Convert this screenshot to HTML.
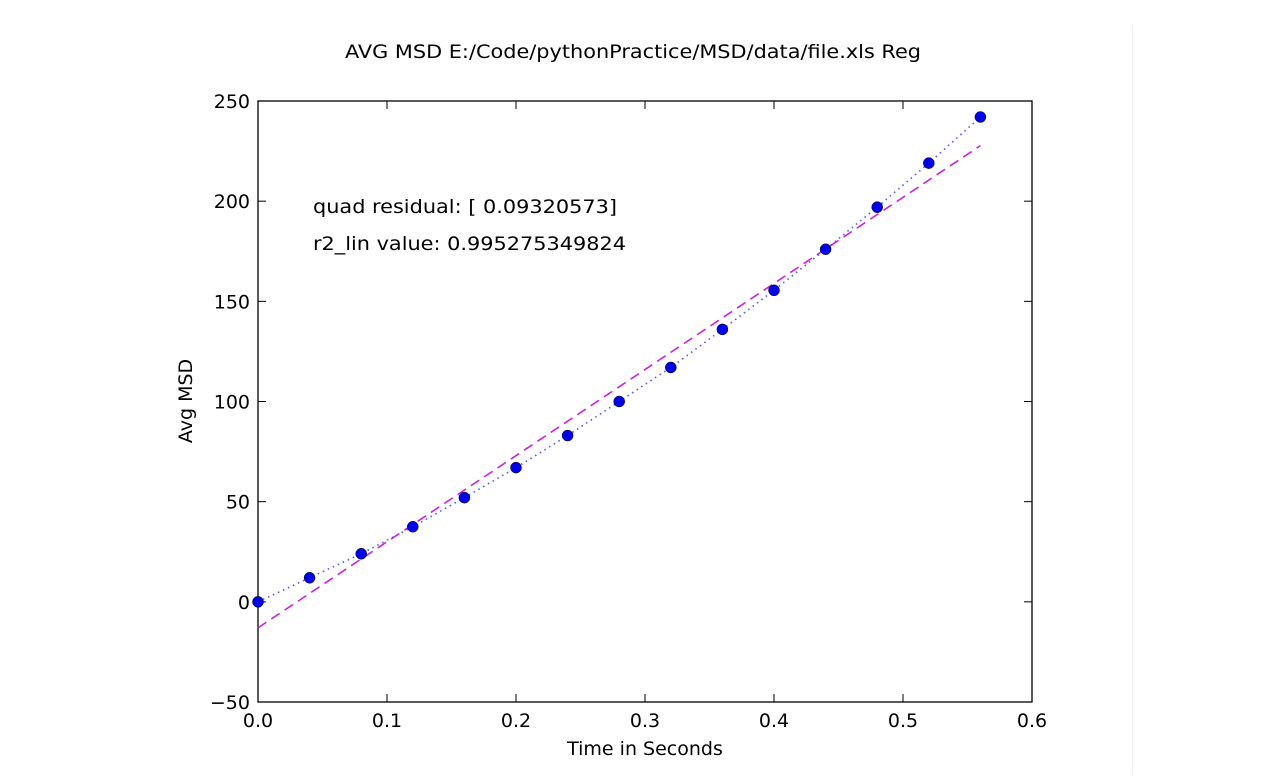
<!DOCTYPE html>
<html><head><meta charset="utf-8"><style>
body{margin:0;background:#fff;width:1261px;height:775px;overflow:hidden;font-family:"DejaVu Sans","Liberation Sans",sans-serif}
</style></head><body>
<svg id="chart" width="1261" height="775" xmlns="http://www.w3.org/2000/svg" font-family="DejaVu Sans, Liberation Sans, sans-serif">
<line x1="1132.5" y1="25" x2="1132.5" y2="775" stroke="#eee" stroke-width="1"/>
<text x="345" y="58" font-size="19" textLength="576" lengthAdjust="spacingAndGlyphs" fill="#000">AVG MSD E:/Code/pythonPractice/MSD/data/file.xls Reg</text>
<g id="plot"></g>
<text x="313" y="213" font-size="19" textLength="304" lengthAdjust="spacingAndGlyphs" fill="#000">quad residual: [ 0.09320573]</text>
<text x="313" y="250" font-size="19" textLength="313" lengthAdjust="spacingAndGlyphs" fill="#000">r2_lin value: 0.995275349824</text>
<text x="645" y="755" font-size="19" text-anchor="middle" fill="#000">Time in Seconds</text>
<text transform="translate(192,401) rotate(-90)" font-size="19" text-anchor="middle" fill="#000">Avg MSD</text>
</svg>
<script>
const times=[0,0.04,0.08,0.12,0.16,0.2,0.24,0.28,0.32,0.36,0.4,0.44,0.48,0.52,0.56];
const msd=[0,12,24,37.5,52,67,83,100,117,136,155.5,176,197,219,242];
const linFit=[-13,227.7];
const linX=[0,0.56];
const xTicks=[0,0.1,0.2,0.3,0.4,0.5,0.6];
const xTickLabels=["0.0","0.1","0.2","0.3","0.4","0.5","0.6"];
const yTicks=[-50,0,50,100,150,200,250];
const yTickLabels=["\u221250","0","50","100","150","200","250"];
const L=258,R=1032,T=101,B=702;
const sx=v=>L+(v-0)/(0.6-0)*(R-L);
const sy=v=>B-(v+50)/300*(B-T);
const NS="http://www.w3.org/2000/svg";
const g=document.getElementById('plot');
function mk(t,a){const e=document.createElementNS(NS,t);for(const k in a)e.setAttribute(k,a[k]);g.appendChild(e);return e;}
const fr=mk('rect',{x:L,y:T,width:R-L,height:B-T,fill:'none',stroke:'#000','stroke-width':1.3});


xTicks.forEach((v,i)=>{const x=sx(v);
 const t1=mk('line',{x1:x,y1:B,x2:x,y2:B-8,stroke:'#000'});
 
 
 const t2=mk('line',{x1:x,y1:T,x2:x,y2:T+8,stroke:'#000'});
 
 
 const tx=mk('text',{x:x,y:B+25,'font-size':19,'text-anchor':'middle',fill:'#000'});tx.textContent=xTickLabels[i];
 
 
});
yTicks.forEach((v,i)=>{const y=sy(v);
 const t1=mk('line',{x1:L,y1:y,x2:L+8,y2:y,stroke:'#000'});
 
 
 const t2=mk('line',{x1:R,y1:y,x2:R-8,y2:y,stroke:'#000'});
 
 
 const tx=mk('text',{x:L-8,y:y+7,'font-size':19,'text-anchor':'end',fill:'#000'});tx.textContent=yTickLabels[i];
 
 
});
const lin=mk('line',{x1:sx(linX[0]),y1:sy(linFit[0]),x2:sx(linX[1]),y2:sy(linFit[1]),stroke:'#cc22dd','stroke-width':1.6,'stroke-dasharray':'10,6'});


const pl=mk('polyline',{points:times.map((t,i)=>sx(t)+','+sy(msd[i])).join(' '),fill:'none',stroke:'#5555ff','stroke-width':1.6,'stroke-dasharray':'1.5,4'});


times.forEach((t,i)=>{const c=mk('circle',{cx:sx(t),cy:sy(msd[i]),r:5.5,fill:'#0000ee',stroke:'#000','stroke-width':0.5});
 
 
});
</script>
</body></html>
